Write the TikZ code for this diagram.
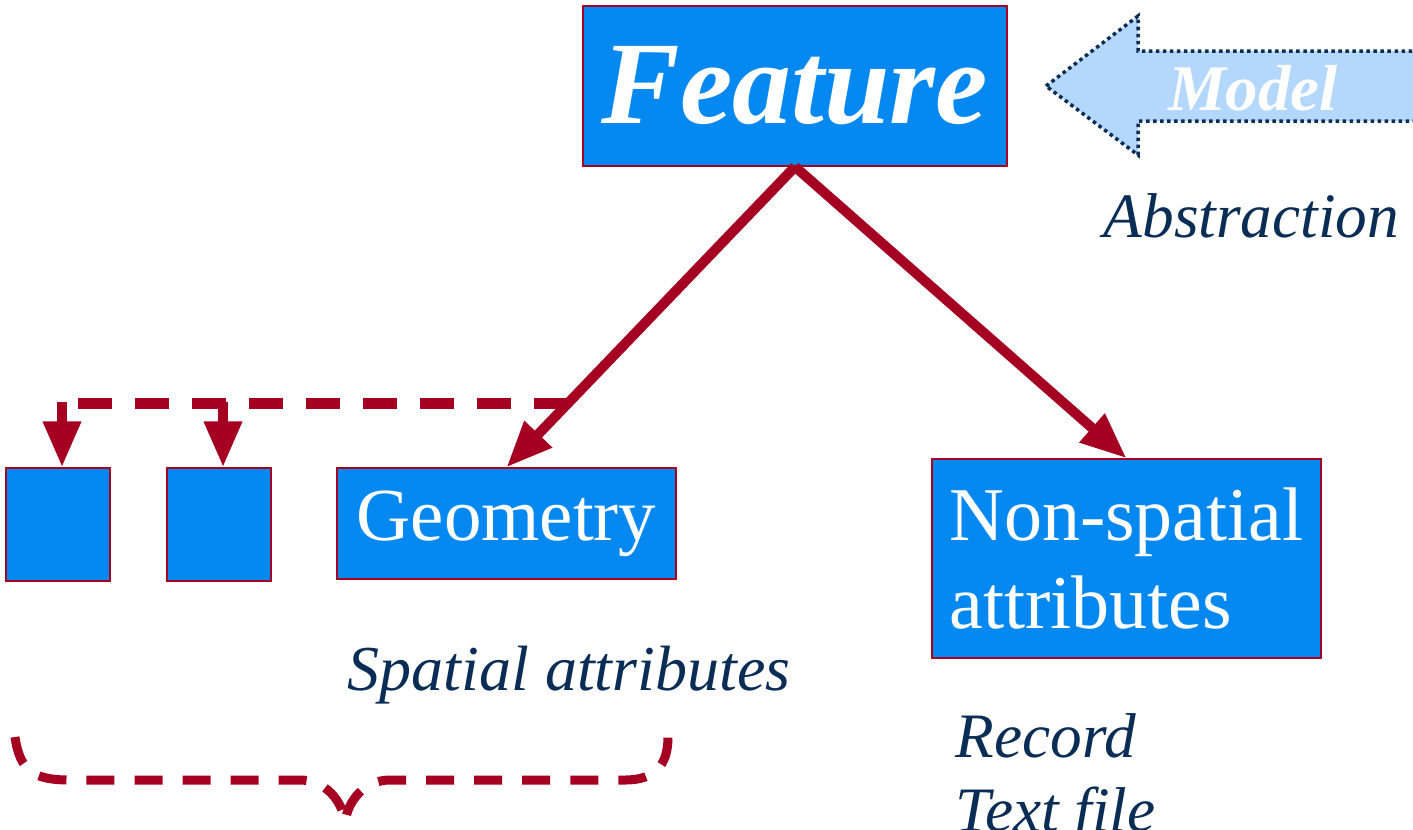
\documentclass[tikz,border=0pt]{standalone}
\usepackage{fontspec}
\setmainfont{Liberation Serif}
\usetikzlibrary{arrows.meta}
\usetikzlibrary{positioning}
\definecolor{boxblue}{RGB}{5,137,240}
\definecolor{darkred}{RGB}{165,0,33}
\definecolor{navy}{RGB}{10,45,85}
\definecolor{modelblue}{RGB}{179,215,253}
\tikzset{
	box/.style={draw=darkred, line width=0.4pt, fill=boxblue, text=white, inner sep=0pt},
	redarrow/.style={draw=darkred, line width=1mm, -{Triangle[length=4.6mm,width=3.6mm]}},
	dashline/.style={draw=darkred, line width=1.1mm, dash pattern=on 3.4mm off 2.3mm},
	note/.style={text=navy, font=\fontsize{18}{21}\selectfont\itshape, inner sep=0pt, anchor=base west}
}

\begin{document}
\begin{tikzpicture}[x=0.01cm, y=-0.01cm]
				\useasboundingbox (0,0) rectangle (1413,829);
				\clip (0,0) rectangle (1413,829);

				% boxes
				\node[box, minimum width=4.24cm, minimum height=1.6cm, font=\fontsize{33.5}{36}\selectfont\bfseries\itshape] (feature) at (795,86) {Feature};
				\node[box, minimum width=3.39cm, minimum height=1.11cm, font=\fontsize{21.3}{25}\selectfont] (geometry) at (506.5,523.5) {Geometry};
				\node[box, minimum width=1.04cm, minimum height=1.13cm] (geoA) at (58,524.5) {};
				\node[box, minimum width=1.04cm, minimum height=1.13cm] (geoB) at (219,524.5) {};
				\node[box, minimum width=3.89cm, minimum height=1.99cm, align=left, font=\fontsize{21.6}{24.75}\selectfont] (nonspatial) at (1126.5,558.5) {Non-spatial\\attributes};

				% model arrow
				\draw[fill=modelblue, draw=navy, line width=0.35mm, densely dotted] (1046,86) -- (1138,16) -- (1138,51) -- (1430,51) -- (1430,121) -- (1138,121) -- (1138,155) -- cycle;
				\node[text=white, font=\fontsize{18.5}{20}\selectfont\bfseries\itshape] (model) at (1253,88) {Model};

				% labels
				\node[note] (abstraction) at (1103,237) {Abstraction};
				\node[note, font=\fontsize{18.2}{21}\selectfont\itshape] (spatial) at (347,690) {Spatial attributes};
				\node[note] (record) at (955,757) {Record};
				\node[note] (textfile) at (955,831) {Text file};

				% links
				\draw[redarrow] (feature.south) -- (geometry.north);
				\draw[redarrow] (feature.south) -- (nonspatial.north);

				\coordinate (dashend) at (568,403);
				\draw[dashline] (dashend) -- ([xshift=0.1cm]dashend -| geoA.north);
				\draw[redarrow] ([xshift=0.04cm,yshift=0.01cm]geoA.north |- dashend) -- ([xshift=0.04cm]geoA.north);
				\draw[redarrow] ([xshift=0.04cm,yshift=0.01cm]geoB.north |- dashend) -- ([xshift=0.04cm]geoB.north);

				% brace
				\draw[darkred, line width=0.9mm, dash pattern=on 2.8mm off 2mm] (15,737) .. controls (20,772) and (35,780) .. (70,780) -- (300,780) .. controls (325,780) and (342,800) .. (345,822) .. controls (348,800) and (365,780) .. (390,780) -- (625,780) .. controls (655,780) and (668,765) .. (668,737);
			\end{tikzpicture}
\end{document}
